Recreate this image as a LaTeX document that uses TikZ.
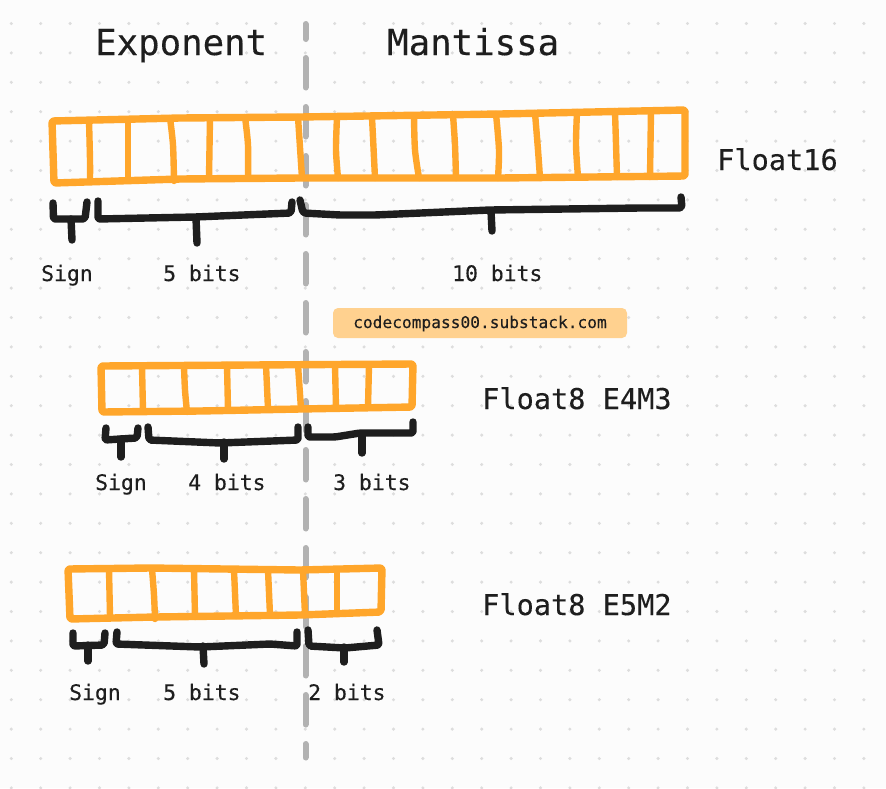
\documentclass[tikz,border=0pt]{standalone}
\usepackage{fontspec}
\setmainfont[FakeBold=0.25]{DejaVu Sans Mono}
\definecolor{bgc}{HTML}{FCFCFC}
\definecolor{dotc}{HTML}{DDDDDD}
\definecolor{guide}{HTML}{B2B2B2}
\definecolor{orangec}{HTML}{FFA62B}
\definecolor{inkc}{HTML}{1E1E1E}
\definecolor{pillc}{HTML}{FFD18F}
\tikzset{
  orangeline/.style={draw=orangec,line width=7.4pt,line cap=round,line join=round},
  cellline/.style={draw=orangec,line width=6.4pt,line cap=round,line join=round},
  brace/.style={draw=inkc,line width=7.4pt,line cap=round,line join=round},
  guideline/.style={draw=guide,line width=6pt,line cap=round},
  txt/.style={anchor=base west,inner sep=0pt,text=inkc},
  big/.style={txt,font=\fontsize{35.7}{36}\selectfont},
  mid/.style={txt,font=\fontsize{28.6}{30}\selectfont},
  small/.style={txt,font=\fontsize{21.4}{22}\selectfont},
  tiny/.style={txt,font=\fontsize{16.2}{17}\selectfont},
}
\begin{document}
\begin{tikzpicture}[x=1pt,y=-1pt]
\useasboundingbox (0,0) rectangle (886,788);
\fill[bgc] (0,0) rectangle (886,788);
% dot grid
\foreach \i in {0,...,29}{\foreach \j in {0,...,26}{
  \fill[dotc] ({11.3+29.4*\i},{23.5+29.4*\j}) circle (1.7);
}}
% guide
\draw[guideline] (305.5,24) -- (305.5,39);
\draw[guideline,dash pattern=on 29.5pt off 19.5pt] (305.5,58) -- (305.5,757.5);
% Float16 register
\draw[orangeline,rounded corners=2pt] (52,121) -- (180,118) -- (300,117) -- (500,114) -- (685,110) -- (685,176) -- (500,178) -- (300,178) -- (180,179) -- (54,183) -- cycle;
\draw[cellline] plot[smooth] coordinates {(89,120) (90,160) (90,180)};
\draw[cellline] (128,120) -- (128,180);
\draw[cellline] plot[smooth] coordinates {(170,118) (173,145) (174,181)};
\draw[cellline] (210,118) -- (209,178);
\draw[cellline] plot[smooth] coordinates {(245,117) (248,145) (248,178)};
\draw[cellline] (298,117) -- (302,178);
\draw[cellline] plot[smooth] coordinates {(337,117) (336,150) (338,178)};
\draw[cellline] (372,117) -- (375,178);
\draw[cellline] plot[smooth] coordinates {(414,116) (415,150) (419,178)};
\draw[cellline] plot[smooth] coordinates {(453,115) (455,145) (456,178)};
\draw[cellline] plot[smooth] coordinates {(496,114) (499,150) (498,178)};
\draw[cellline] plot[smooth] coordinates {(535,113) (538,150) (540,178)};
\draw[cellline] plot[smooth] coordinates {(577,112) (576,145) (578,177)};
\draw[cellline] (615,111) -- (617,177);
\draw[cellline] (651,111) -- (650,177);
% Float16 braces
\draw[brace,rounded corners=2pt] (53,203) -- (53.5,219) -- (85,219) -- (87,202);
\draw[brace] (71,219) -- (72,240);
\draw[brace,rounded corners=2pt] (98,201) -- (98,219) -- (195,217) -- (291,213) -- (292,202);
\draw[brace] (196,218) -- (197,243);
\draw[brace,rounded corners=3pt] (300,200) -- (303,213) -- (340,215) -- (375,215) -- (490,210) -- (640,208) -- (682,208) -- (681,197);
\draw[brace] (491,211) -- (492,231);
% E4M3 register
\draw[orangeline,rounded corners=2pt] (101,366) -- (250,365) -- (413,364) -- (412,407) -- (300,409) -- (200,411) -- (102,412) -- cycle;
\draw[cellline] (142,366) -- (143,411);
\draw[cellline] plot[smooth] coordinates {(184,366) (185,390) (187,412)};
\draw[cellline] (227,365) -- (228,410);
\draw[cellline] (266,365) -- (268,409);
\draw[cellline] (298,365) -- (301,409);
\draw[cellline] (335,365) -- (336,408);
\draw[cellline] (369,365) -- (368,407);
% E4M3 braces
\draw[brace,rounded corners=2pt] (106,428) -- (105,440) -- (120,439) -- (137,438) -- (138,428);
\draw[brace] (121,439) -- (121,457);
\draw[brace,rounded corners=2pt] (148,427) -- (149,440) -- (220,443) -- (298,440) -- (298,427);
\draw[brace] (224,442) -- (224,459);
\draw[brace,rounded corners=2pt] (308,427) -- (308,437) -- (335,437) -- (360,433) -- (413,433) -- (413,422);
\draw[brace] (362,434) -- (362,453);
% E5M2 register
\draw[orangeline,rounded corners=2pt] (68,569) -- (150,568) -- (300,570) -- (382,568) -- (381,612) -- (300,615) -- (155,617) -- (70,619) -- cycle;
\draw[cellline] (109,569) -- (110,616);
\draw[cellline] plot[smooth] coordinates {(152,569) (154,595) (155,619)};
\draw[cellline] (194,569) -- (195,617);
\draw[cellline] (234,570) -- (236,616);
\draw[cellline] (268,570) -- (270,615);
\draw[cellline] (303,570) -- (305,615);
\draw[cellline] (337,570) -- (337,614);
% E5M2 braces
\draw[brace,rounded corners=2pt] (73,633) -- (73,646) -- (104,645) -- (105,633);
\draw[brace] (88,645) -- (88,661);
\draw[brace,rounded corners=2pt] (117,632) -- (116,644) -- (200,647) -- (270,644) -- (297,646) -- (297,632);
\draw[brace] (203,646) -- (204,664);
\draw[brace,rounded corners=2pt] (308,630) -- (309,646) -- (345,648) -- (379,645) -- (377,630);
\draw[brace] (344,647) -- (344,662);
% pill
\fill[pillc,rounded corners=5pt] (333,308) rectangle (627,338);
% labels
\node[big] (lexp) at (95,55) {Exponent};
\node[big] (lman) at (387,55) {Mantissa};
\node[mid] (lf16) at (717,170) {Float16};
\node[small] (s1) at (41,281) {Sign};
\node[small] (b1) at (163,281) {5 bits};
\node[small] (b2) at (452,281) {10 bits};
\node[tiny] (lurl) at (353,328) {codecompass00.substack.com};
\node[mid] (lf43) at (482,409) {Float8 E4M3};
\node[small] (s2) at (95,490) {Sign};
\node[small] (b3) at (188,490) {4 bits};
\node[small] (b4) at (333,490) {3 bits};
\node[mid] (lf52) at (482,615) {Float8 E5M2};
\node[small] (s3) at (69,700) {Sign};
\node[small] (b5) at (163,700) {5 bits};
\node[small] (b6) at (308,700) {2 bits};
\end{tikzpicture}
\end{document}
